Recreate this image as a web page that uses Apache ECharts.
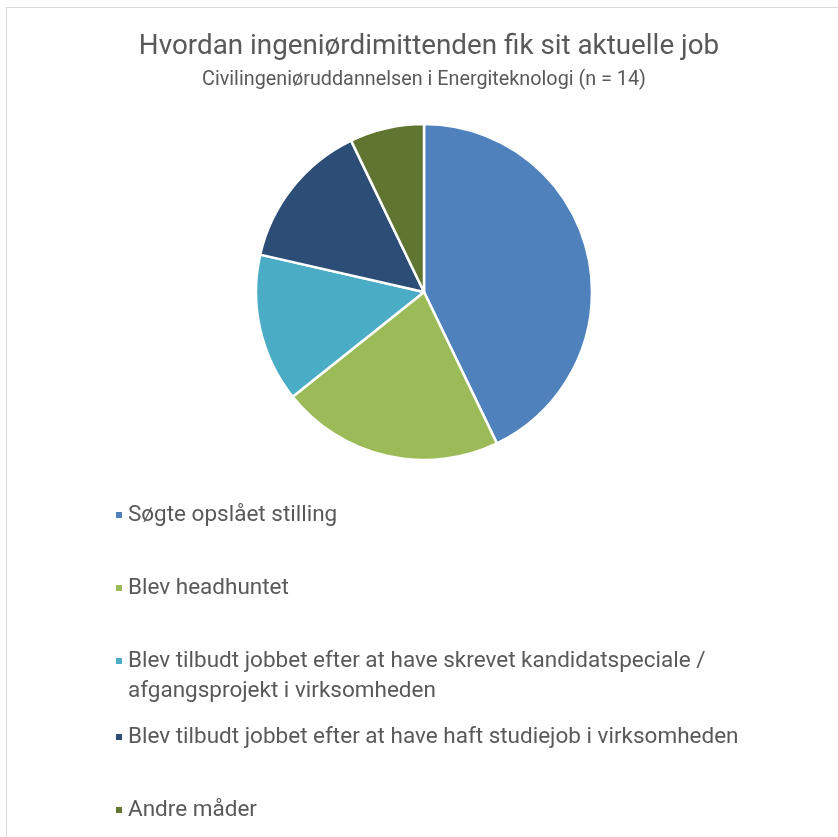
<!DOCTYPE html>
<html>
<head>
<meta charset="utf-8">
<script src="https://cdn.jsdelivr.net/npm/echarts@6/dist/echarts.min.js"></script>
<style>
html,body{margin:0;padding:0;background:#fff;}
#frame{position:absolute;left:6px;top:7px;width:900px;height:900px;border-left:1px solid #d9d9d9;border-top:1px solid #d9d9d9;box-sizing:border-box;}
#chart{position:absolute;left:0;top:0;width:838px;height:837px;}
</style>
</head>
<body>
<div id="frame"></div>
<div id="chart"></div>
<script>
const titleText = 'Hvordan ingeniørdimittenden fik sit aktuelle job';
const subtitleText = 'Civilingeniøruddannelsen i Energiteknologi (n = 14)';
const categories = [
  'Søgte opslået stilling',
  'Blev headhuntet',
  'Blev tilbudt jobbet efter at have skrevet kandidatspeciale / afgangsprojekt i virksomheden',
  'Blev tilbudt jobbet efter at have haft studiejob i virksomheden',
  'Andre måder'
];
const counts = [6, 3, 2, 2, 1];
const colors = ['#4F81BD', '#9BBB59', '#4BACC6', '#2C4D75', '#5F7530'];

const FONT = 'Roboto';
const legendTops = [495, 568, 641, 717, 790];
const legendFontSize = 22.5;
const lineH = 30;

const legends = categories.map((name, i) => {
  const wrapped = name.includes(' / ');
  return {
    data: [name],
    orient: 'vertical',
    left: 109,
    top: legendTops[i],
    itemWidth: 8,
    itemHeight: wrapped ? 8 + lineH : 8,
    icon: wrapped ? 'path://M0,0h8v8h-8zM0,' + (8 + lineH) : 'rect',
    selectedMode: false,
    formatter: n => n.replace(' / ', ' /\n'),
    textStyle: {
      fontFamily: FONT,
      fontSize: legendFontSize,
      color: '#595959',
      lineHeight: lineH
    }
  };
});

const chart = echarts.init(document.getElementById('chart'));
chart.setOption({
  animation: false,
  color: colors,
  title: [
    {
      text: titleText,
      left: 424, top: 28, textAlign: 'center',
      textStyle: {fontFamily: FONT, fontSize: 27.8, fontWeight: 'normal', color: '#595959'}
    },
    {
      text: subtitleText,
      left: 419, top: 65, textAlign: 'center',
      textStyle: {fontFamily: FONT, fontSize: 19.8, fontWeight: 'normal', color: '#595959'}
    }
  ],
  legend: legends,
  series: [{
    type: 'pie',
    center: [424, 292],
    radius: 168,
    startAngle: 90,
    clockwise: true,
    label: {show: false},
    labelLine: {show: false},
    emphasis: {disabled: true},
    itemStyle: {borderColor: '#fff', borderWidth: 2.5},
    data: categories.map((c, i) => ({name: c, value: counts[i]}))
  }]
});
</script>
</body>
</html>
